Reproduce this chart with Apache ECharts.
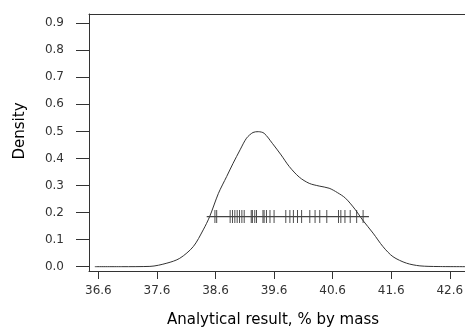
<!DOCTYPE html>
<html>
<head>
<meta charset="utf-8">
<script src="https://cdn.jsdelivr.net/npm/echarts@6/dist/echarts.min.js"></script>
<style>html,body{margin:0;padding:0;background:#fff}#c{width:465px;height:327px}</style>
</head>
<body>
<div id="c"></div>
<script>
// Density curve (x = analytical result, y = density)
const curveX = [36.54, 37.0, 37.48, 37.77, 37.99, 38.22, 38.39, 38.50, 38.65, 38.79, 38.90, 39.02, 39.13, 39.24, 39.33, 39.43, 39.57, 39.72, 39.86, 40.03, 40.20, 40.37, 40.54, 40.68, 40.82, 40.99, 41.11, 41.29, 41.46, 41.63, 41.86, 42.09, 42.4, 43.0];
const curveY = [0, 0, 0.001, 0.013, 0.031, 0.074, 0.136, 0.185, 0.271, 0.333, 0.382, 0.432, 0.475, 0.496, 0.499, 0.493, 0.456, 0.413, 0.370, 0.331, 0.308, 0.298, 0.290, 0.274, 0.253, 0.210, 0.173, 0.124, 0.074, 0.037, 0.013, 0.003, 0.0005, 0];
// Individual results (rug marks)
const results = [38.59, 38.62, 38.85, 38.89, 38.93, 38.97, 39.01, 39.05, 39.09, 39.21, 39.23, 39.27, 39.30, 39.41, 39.43, 39.47, 39.53, 39.60, 39.80, 39.87, 39.93, 40.00, 40.07, 40.21, 40.30, 40.38, 40.50, 40.70, 40.74, 40.81, 40.90, 41.01, 41.12];
const rugLevel = 0.185;
const rugLineX = [38.45, 41.22];
const xTicks = [36.6, 37.6, 38.6, 39.6, 40.6, 41.6, 42.6];
const yTicks = [0, 0.1, 0.2, 0.3, 0.4, 0.5, 0.6, 0.7, 0.8, 0.9];
const xTitle = 'Analytical result, % by mass';
const yTitle = 'Density';

const chart = echarts.init(document.getElementById('c'), null, {renderer: 'canvas'});
const tickFont = '"DejaVu Sans", Verdana, sans-serif';
const titleFont = '"DejaVu Sans", Arial, sans-serif';
chart.setOption({
  animation: false,
  backgroundColor: '#fff',
  grid: {left: 89, top: 14, right: 0, bottom: 56, show: false, containLabel: false, outerBoundsMode: 'none'},
  xAxis: [{
    type: 'value', min: 36.44, max: 42.86, position: 'bottom',
    axisLine: {show: true, onZero: false, lineStyle: {color: '#333', width: 1}},
    splitLine: {show: false},
    axisTick: {show: true, customValues: xTicks, length: 8, lineStyle: {color: '#333'}},
    axisLabel: {customValues: xTicks, formatter: v => v.toFixed(1), margin: 14, color: '#333', fontSize: 12, fontFamily: tickFont}
  }, {
    type: 'value', min: 36.44, max: 42.86, position: 'top',
    axisLine: {show: true, onZero: false, lineStyle: {color: '#333', width: 1}},
    splitLine: {show: false}, axisTick: {show: false}, axisLabel: {show: false}
  }],
  yAxis: {
    type: 'value', min: -0.016, max: 0.934,
    axisLine: {show: true, onZero: false, lineStyle: {color: '#333', width: 1}},
    splitLine: {show: false},
    axisTick: {show: true, customValues: yTicks, length: 13, lineStyle: {color: '#333'}},
    axisLabel: {customValues: yTicks, formatter: v => v.toFixed(1), margin: 25, color: '#333', fontSize: 12, fontFamily: tickFont}
  },
  graphic: [
    {type: 'text', x: 20, y: 131, rotation: Math.PI / 2, style: {text: yTitle, fill: '#000', font: '15px ' + titleFont, align: 'center', verticalAlign: 'middle'}},
    {type: 'text', x: 273, y: 320, style: {text: xTitle, fill: '#000', font: '15px ' + titleFont, align: 'center', verticalAlign: 'middle'}}
  ],
  series: [
    {type: 'line', data: curveX.map((x, i) => [x, curveY[i]]), showSymbol: false, smooth: 0.3, lineStyle: {color: '#333', width: 1}, silent: true},
    {type: 'line', data: rugLineX.map(x => [x, rugLevel]), showSymbol: false, lineStyle: {color: '#444', width: 1.3}, silent: true},
    {type: 'scatter', data: results.map(x => [x, rugLevel]), symbol: 'rect', symbolSize: [1, 13], itemStyle: {color: '#222'}, silent: true}
  ]
});
</script>
</body>
</html>
